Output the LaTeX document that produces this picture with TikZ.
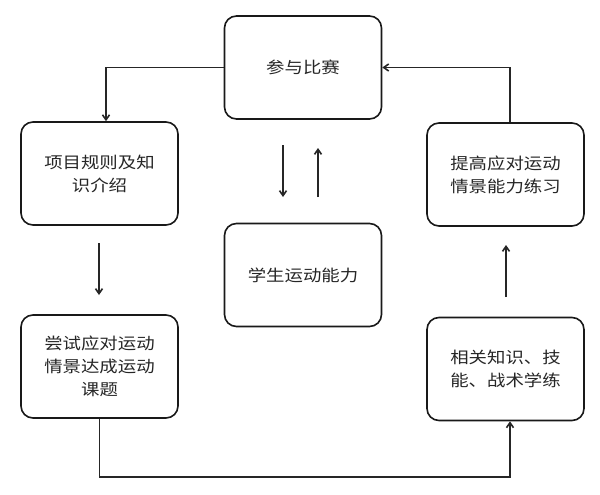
\documentclass[tikz,border=0pt]{standalone}
\usepackage{fontspec}
\newfontfamily\cjk[FakeStretch=1.15]{Noto Sans CJK SC}
\usetikzlibrary{arrows.meta,calc}
\tikzset{
  stagebox/.style={draw=black!90, line width=1.6pt, rounded corners=12pt,
    minimum width=157pt, minimum height=103pt, align=center,
    font=\cjk\fontsize{16}{23}\selectfont, text=black!85},
  flow/.style={draw=black!85, line width=1.6pt, -{Straight Barb[length=5pt,width=7pt]}}
}
\begin{document}
\begin{tikzpicture}[x=1pt,y=-1pt]
\useasboundingbox[fill=white] (0,0) rectangle (600,495);
% boxes
\node[stagebox] (match)   at (303,67.5)   {参与比赛};
\node[stagebox] (rules)   at (99.5,173.5) {项目规则及知\\识介绍};
\node[stagebox] (ability) at (303,275)    {学生运动能力};
\node[stagebox] (improve) at (505.5,174.5){提高应对运动\\情景能力练习};
\node[stagebox] (attempt) at (99.5,366.5) {尝试应对运动\\情景达成运动\\课题};
\node[stagebox] (learn)   at (505.5,369)  {相关知识、技\\能、战术学练};

% free arrow ends
\coordinate (downA) at (283,145);
\coordinate (downB) at (283,197);
\coordinate (upA)   at (318,197);
\coordinate (upB)   at (318,148);
\coordinate (leftA) at (99,243);
\coordinate (leftB) at (99,295);
\coordinate (rightA) at (506,297);
\coordinate (rightB) at (506,245);

% connectors
\draw[flow] (match.west) -| ([xshift=6.5pt]rules.north);
\draw[flow] ([xshift=4.5pt]improve.north) |- (match.east);
\draw[flow] (downA) -- (downB);
\draw[flow] (upA) -- (upB);
\draw[flow] (leftA) -- (leftB);
\draw[flow] (rightA) -- (rightB);
\draw[flow] (attempt.south) -- ++(0,58) -| ([xshift=4.5pt]learn.south);
\end{tikzpicture}
\end{document}
